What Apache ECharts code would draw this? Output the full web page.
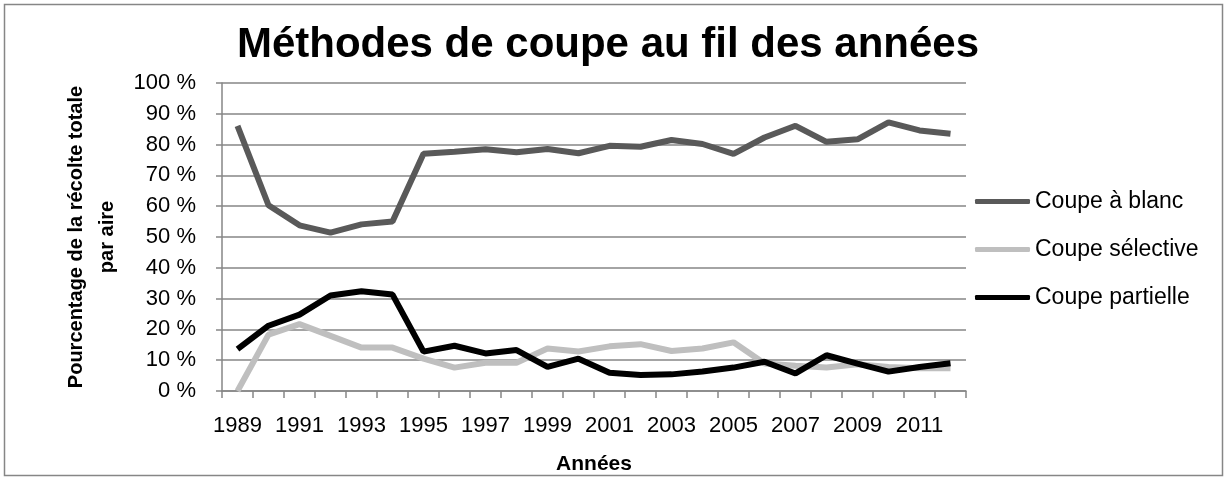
<!DOCTYPE html>
<html>
<head>
<meta charset="utf-8">
<script src="https://cdn.jsdelivr.net/npm/echarts@6/dist/echarts.min.js"></script>
<style>
html, body { margin: 0; padding: 0; background: #fff; }
#chart { width: 1227px; height: 480px; }
</style>
</head>
<body>
<div id="chart"></div>
<script>
var years = ["1989", "1990", "1991", "1992", "1993", "1994", "1995", "1996", "1997", "1998", "1999", "2000",
  "2001", "2002", "2003", "2004", "2005", "2006", "2007", "2008", "2009", "2010", "2011", "2012"];
var blancData = [86.1, 60.3, 53.8, 51.4, 54.1, 55, 77, 77.7, 78.5, 77.5, 78.6, 77.2,
  79.6, 79.3, 81.5, 80.2, 77, 82.3, 86.1, 80.9, 81.7, 87.2, 84.6, 83.5];
var selectiveData = [0, 18.3, 21.7, 17.9, 14.1, 14.1, 10.5, 7.6, 9.2, 9.2, 13.8, 12.8,
  14.5, 15.2, 13, 13.8, 15.8, 8.9, 8.2, 7.6, 8.7, 7.8, 7.4, 7.4];
var partielleData = [13.6, 21.2, 24.8, 31, 32.4, 31.3, 12.8, 14.7, 12.2, 13.3, 7.8, 10.5,
  5.9, 5.2, 5.4, 6.3, 7.6, 9.5, 5.7, 11.6, 8.9, 6.3, 7.8, 9];

var font = "Liberation Sans";
var chart = echarts.init(document.getElementById("chart"));
chart.setOption({
  animation: false,
  title: {
    text: "Méthodes de coupe au fil des années",
    left: 603,
    top: 19,
    textAlign: "center",
    textStyle: { fontFamily: font, fontSize: 42, fontWeight: "bold", color: "#000" }
  },
  graphic: [{
    type: "rect",
    shape: { x: 4.5, y: 4.5, width: 1218, height: 471 },
    style: { fill: "none", stroke: "#868686", lineWidth: 1.5 },
    z: -1
  }],
  grid: { left: 222, right: 261, top: 83, bottom: 89, outerBoundsMode: "none" },
  legend: {
    orient: "vertical",
    left: 970,
    top: 185,
    icon: "roundRect",
    itemWidth: 55,
    itemHeight: 5,
    itemGap: 25,
    textStyle: { fontFamily: font, fontSize: 23, color: "#000" },
    data: ["Coupe à blanc", "Coupe sélective", "Coupe partielle"]
  },
  xAxis: {
    type: "category",
    data: years,
    boundaryGap: true,
    name: "Années",
    nameLocation: "middle",
    nameGap: 63,
    nameTextStyle: { fontFamily: font, fontSize: 21, fontWeight: "bold", color: "#000" },
    axisLine: { lineStyle: { color: "#868686", width: 1.5 } },
    axisTick: { show: true, length: 7, interval: 0, lineStyle: { color: "#868686", width: 1.5 } },
    axisLabel: {
      interval: 1, margin: 24,
      formatter: "{y|{value}}",
      rich: { y: { fontFamily: font, fontSize: 22, color: "#000" } }
    }
  },
  yAxis: {
    type: "value",
    min: 0,
    max: 100,
    interval: 10,
    name: "Pourcentage de la récolte totale\npar aire",
    nameLocation: "middle",
    nameGap: 97,
    nameTextStyle: { fontFamily: font, fontSize: 20, fontWeight: 700, color: "#000", lineHeight: 31 },
    axisLine: { show: true, lineStyle: { color: "#868686", width: 1.5 } },
    axisTick: { show: true, length: 6, lineStyle: { color: "#868686", width: 1.5 } },
    splitLine: { lineStyle: { color: "#868686", width: 1.5 } },
    axisLabel: {
      fontFamily: font, fontSize: 22, color: "#000", margin: 26,
      formatter: function (v) { return v + " %"; }
    }
  },
  series: [
    {
      name: "Coupe à blanc", type: "line", data: blancData, symbol: "none",
      color: "#595959", lineStyle: { width: 6, color: "#595959" }, z: 3
    },
    {
      name: "Coupe sélective", type: "line", data: selectiveData, symbol: "none",
      color: "#bfbfbf", lineStyle: { width: 6, color: "#bfbfbf" }, z: 2
    },
    {
      name: "Coupe partielle", type: "line", data: partielleData, symbol: "none",
      color: "#000000", lineStyle: { width: 6, color: "#000000" }, z: 4
    }
  ]
});
</script>
</body>
</html>
